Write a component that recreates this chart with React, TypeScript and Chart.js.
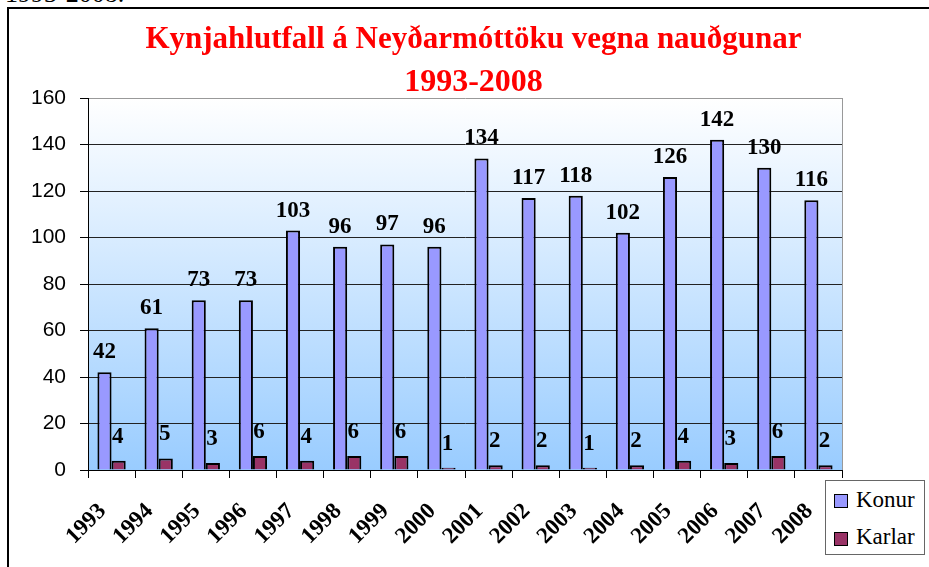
import React, { useEffect, useRef } from "react";
import { Chart, registerables } from "chart.js";

Chart.register(...registerables);

const years = ["1993","1994","1995","1996","1997","1998","1999","2000","2001","2002","2003","2004","2005","2006","2007","2008"];
const konur = [42, 61, 73, 73, 103, 96, 97, 96, 134, 117, 118, 102, 126, 142, 130, 116];
const karlar = [4, 5, 3, 6, 4, 6, 6, 1, 2, 2, 1, 2, 4, 3, 6, 2];
const seriesNames = ["Konur", "Karlar"];
const seriesColors = ["#9999FF", "#993366"];
const titleLines = ["Kynjahlutfall á Neyðarmóttöku vegna nauðgunar", "1993-2008"];
const yMin = 0;
const yMax = 160;
const yStep = 20;

const SERIF = '"Liberation Serif", "Times New Roman", serif';
const SANS = '"Liberation Sans", Arial, sans-serif';

const bgPlugin = {
  id: "bgGradient",
  beforeDraw(chart: any) {
    const { ctx, chartArea } = chart;
    if (!chartArea) return;
    const { left, top, right, bottom } = chartArea;
    const g = ctx.createLinearGradient(0, top, 0, bottom);
    g.addColorStop(0, "#FFFFFF");
    g.addColorStop(1, "#99CCFF");
    ctx.save();
    ctx.fillStyle = g;
    ctx.fillRect(left, top, right - left, bottom - top);
    ctx.restore();
  },
  beforeDatasetsDraw(chart: any) {
    const { ctx, chartArea } = chart;
    const { right, top, bottom } = chartArea;
    ctx.save();
    ctx.strokeStyle = "#999999";
    ctx.lineWidth = 1;
    ctx.beginPath();
    ctx.moveTo(Math.round(right) + 0.5, top);
    ctx.lineTo(Math.round(right) + 0.5, bottom);
    ctx.stroke();
    ctx.restore();
  },
};

const labelPlugin = {
  id: "valueLabels",
  afterDatasetsDraw(chart: any) {
    const { ctx } = chart;
    ctx.save();
    ctx.font = `bold 23px ${SERIF}`;
    ctx.fillStyle = "#000";
    ctx.textAlign = "center";
    ctx.textBaseline = "alphabetic";
    chart.data.datasets.forEach((ds: any, i: number) => {
      const meta = chart.getDatasetMeta(i);
      const off = i === 0 ? 14 : 18;
      meta.data.forEach((el: any, j: number) => {
        ctx.fillText(String(ds.data[j]), el.x - (i === 1 ? 1 : 0), el.y - off);
      });
    });
    ctx.restore();
  },
};

function BarChart() {
  const ref = useRef<HTMLCanvasElement | null>(null);
  useEffect(() => {
    if (!ref.current) return;
    const chart = new Chart(ref.current, {
      type: "bar",
      data: {
        labels: years,
        datasets: [
          {
            label: seriesNames[0],
            data: konur,
            backgroundColor: seriesColors[0],
            borderColor: "#000",
            borderWidth: 2,
            categoryPercentage: 0.6,
            barPercentage: 1.0,
          },
          {
            label: seriesNames[1],
            data: karlar,
            backgroundColor: seriesColors[1],
            borderColor: "#000",
            borderWidth: 2,
            categoryPercentage: 0.6,
            barPercentage: 1.0,
          },
        ],
      },
      options: {
        responsive: false,
        animation: false,
        devicePixelRatio: 1,
        layout: { padding: { left: 0, right: 87, top: 98, bottom: 0 } },
        plugins: {
          legend: { display: false },
          title: { display: false },
          tooltip: { enabled: false },
        },
        scales: {
          x: {
            offset: true,
            afterFit(scale: any) {
              scale.height = 97;
            },
            grid: {
              drawOnChartArea: false,
              drawTicks: true,
              tickLength: 8,
              color: "#000",
              offset: true,
            },
            border: { color: "#000", width: 1 },
            ticks: {
              autoSkip: false,
              minRotation: 45,
              maxRotation: 45,
              color: "#000",
              padding: 20,
              labelOffset: -9,
              font: { family: SERIF, size: 23, weight: "bold" },
            },
          },
          y: {
            min: yMin,
            max: yMax,
            afterFit(scale: any) {
              scale.width = 88;
            },
            grid: {
              color: (c: any) => (c.tick && c.tick.value === yMax ? "#999999" : "#222222"),
              tickColor: "#000",
              tickLength: 8,
              lineWidth: 1,
            },
            border: { color: "#000", width: 1 },
            ticks: {
              stepSize: yStep,
              color: "#000",
              padding: 14,
              font: { family: SANS, size: 21 },
            },
          },
        },
      },
      plugins: [bgPlugin, labelPlugin],
    } as any);
    return () => chart.destroy();
  }, []);
  return <canvas ref={ref} width={929} height={567} style={{ position: "absolute", left: 0, top: 0, width: 929, height: 567 }} />;
}

export default function App() {
  return (
    <div style={{ position: "absolute", left: 0, top: 0, width: 929, height: 567, overflow: "hidden", background: "#fff" }}>
      <div
        style={{
          position: "absolute",
          left: 5,
          top: -19,
          fontFamily: SERIF,
          fontSize: 26,
          lineHeight: "26px",
          color: "#000",
          whiteSpace: "nowrap",
        }}
      >
        1993-2008.
      </div>
      <div
        style={{
          position: "absolute",
          left: 7,
          top: 7,
          width: 1000,
          height: 700,
          borderTop: "2px solid #000",
          borderLeft: "2px solid #000",
        }}
      />
      <BarChart />
      <div
        style={{
          position: "absolute",
          left: 0,
          width: 947,
          top: 15.7,
          textAlign: "center",
          fontFamily: SERIF,
          fontWeight: "bold",
          lineHeight: "43px",
          color: "#FF0000",
          whiteSpace: "nowrap",
        }}
      >
        <div style={{ fontSize: 31 }}>{titleLines[0]}</div>
        <div style={{ fontSize: 32 }}>{titleLines[1]}</div>
      </div>
      <div
        style={{
          position: "absolute",
          left: 825,
          top: 480,
          width: 100,
          height: 75,
          boxSizing: "border-box",
          border: "1px solid #666",
          background: "#fff",
          fontFamily: SERIF,
          fontSize: 23,
          color: "#000",
        }}
      >
        {seriesNames.map((name, i) => (
          <React.Fragment key={name}>
            <div
              style={{
                position: "absolute",
                left: 8,
                top: i === 0 ? 13 : 51,
                width: 14,
                height: 14,
                boxSizing: "border-box",
                border: "1px solid #000",
                background: seriesColors[i],
              }}
            />
            <div
              style={{
                position: "absolute",
                left: 30,
                top: i === 0 ? 7 : 44,
                lineHeight: "23px",
                whiteSpace: "nowrap",
              }}
            >
              {name}
            </div>
          </React.Fragment>
        ))}
      </div>
    </div>
  );
}
